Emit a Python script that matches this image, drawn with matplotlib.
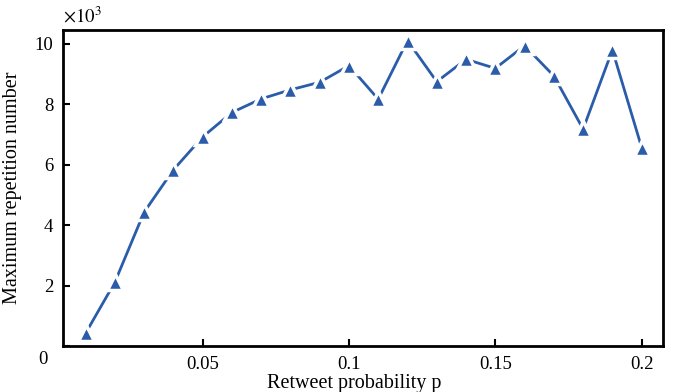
import matplotlib.pyplot as plt

# retweet probability vs maximum repetition number (x10^3)
p = [0.01, 0.02, 0.03, 0.04, 0.05, 0.06, 0.07, 0.08, 0.09, 0.10,
     0.11, 0.12, 0.13, 0.14, 0.15, 0.16, 0.17, 0.18, 0.19, 0.20]
rep = [0.42, 2.11, 4.43, 5.83, 6.92, 7.73, 8.18, 8.48, 8.73, 9.28,
       8.17, 10.11, 8.75, 9.49, 9.19, 9.94, 8.94, 7.18, 9.80, 6.57]
xticks = [0.05, 0.1, 0.15, 0.2]
yticks = [0, 2, 4, 6, 8, 10]

plt.rcParams['font.family'] = ['Liberation Serif', 'DejaVu Serif']
plt.rcParams['mathtext.fontset'] = 'stix'

fig = plt.figure(figsize=(6.74, 3.92), dpi=100)
ax = fig.add_axes([0.0935, 0.1173, 0.8902, 0.8062])

ax.plot(p, rep, color='#2a5caa', lw=2, marker='^', markersize=11,
        markerfacecolor='#2a5caa', markeredgecolor='white', markeredgewidth=2.5)

ax.set_xlim(0.0023, 0.2073)
ax.set_ylim(0, 10.46)
ax.set_xticks(xticks)
ax.set_xticklabels(['0.05', '0.1', '0.15', '0.2'])
ax.set_yticks(yticks)
ax.set_yticklabels(['', '2', '4', '6', '8', '10'])
ax.text(-0.025, -0.015, '0', transform=ax.transAxes, ha='right', va='top', fontsize=13.5)
ax.tick_params(direction='in', length=5, width=1.5, labelsize=13.5, pad=7)
for s in ax.spines.values():
    s.set_linewidth(2)

ax.set_xlabel('Retweet probability p', fontsize=14.5)
ax.xaxis.set_label_coords(0.485, -0.087)
ax.xaxis.label.set_va('top')
ax.set_ylabel('Maximum repetition number', fontsize=14.5)
ax.yaxis.set_label_coords(-0.068, 0.5)
ax.text(0.0, 1.01, r'$\times10^3$', transform=ax.transAxes, ha='left', va='bottom', fontsize=13.5)

fig.savefig('out.png', dpi=100)
